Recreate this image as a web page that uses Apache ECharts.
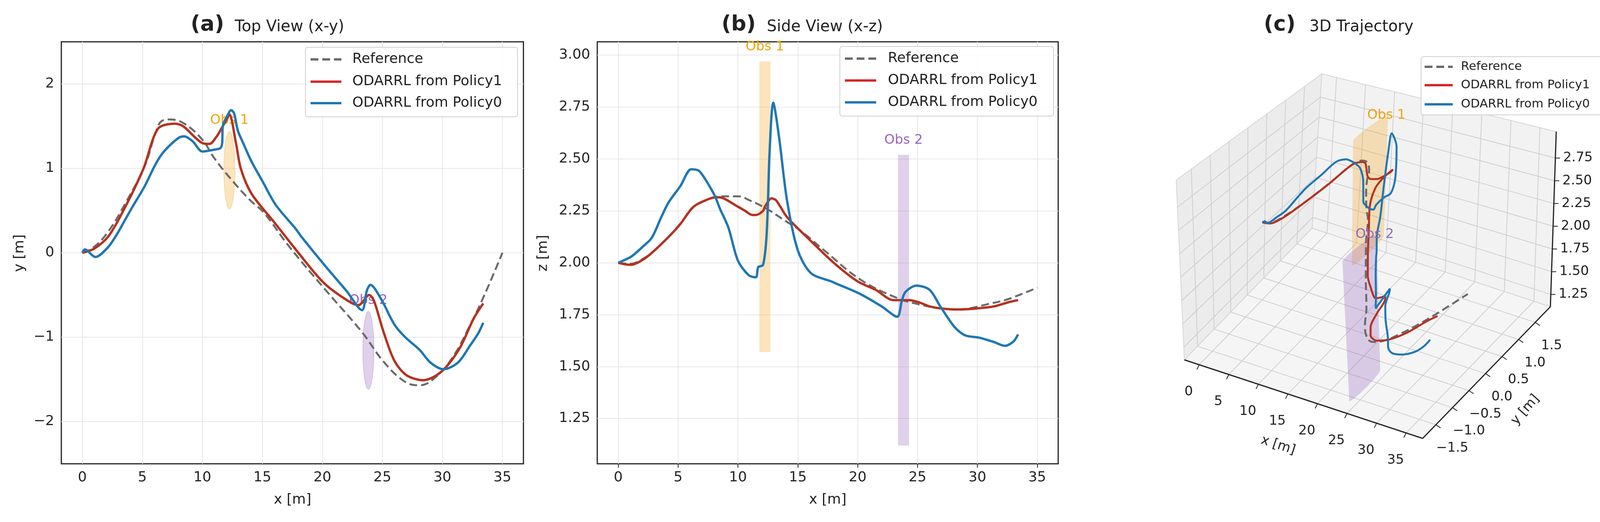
<!DOCTYPE html>
<html><head><meta charset="utf-8">
<script src="https://cdn.jsdelivr.net/npm/echarts@6/dist/echarts.min.js"></script>
<style>html,body{margin:0;padding:0;background:#fff}#c{width:4179px;height:1336px}</style>
</head><body><div id="c"></div>
<script>
// ---------------- data ----------------
const refX=[0,0.9,2.1,3.6,5.2,6.1,6.6,7.3,8.5,10,11,12.4,14,15.1,17.2,20.2,23.3,25.1,26.9,28.1,29.3,30.8,32.3,33.5,35];
const refY=[0,0.06,0.24,0.59,1.03,1.42,1.56,1.58,1.53,1.34,1.12,0.87,0.62,0.48,0.08,-0.43,-0.94,-1.29,-1.53,-1.57,-1.49,-1.25,-0.86,-0.5,0];
const refZ=[2.0,1.995,2.02,2.09,2.19,2.26,2.28,2.30,2.32,2.32,2.30,2.26,2.20,2.16,2.06,1.92,1.83,1.80,1.78,1.775,1.78,1.80,1.82,1.845,1.88];

const p1X=[0,1,2.2,3.6,5.1,6.3,7.7,8.4,10,10.6,11.2,11.5,12.1,12.25,12.8,13.2,14.1,16,18,20,21.5,23,23.9,24.3,25.1,26,27,28.4,29.9,31.4,32.6,33.4];
const p1Y=[0,0.05,0.2,0.55,1.0,1.47,1.53,1.5,1.3,1.29,1.38,1.45,1.6,1.64,1.3,1.0,0.7,0.36,0.0,-0.34,-0.51,-0.62,-0.5,-0.57,-0.94,-1.28,-1.45,-1.51,-1.41,-1.14,-0.78,-0.6];
const p1Z=[2.0,1.99,2.02,2.09,2.18,2.27,2.31,2.315,2.27,2.25,2.23,2.23,2.25,2.27,2.31,2.30,2.22,2.11,2.00,1.91,1.87,1.82,1.82,1.82,1.81,1.79,1.78,1.775,1.78,1.79,1.81,1.82];

const p0X=[0,0.2,1.1,2.1,2.8,3.6,4.2,5.2,6.1,6.8,8,8.5,9.2,10,10.9,11.5,11.65,11.7,12.1,12.4,12.65,12.95,13.4,14.1,15,16.1,17.8,18.2,20.2,22,23.3,23.7,24.0,24.9,26,26.9,28.1,29,30.1,31.3,32.3,33,33.4];
const p0Y=[0,0.04,-0.05,0.06,0.2,0.4,0.55,0.79,1.05,1.2,1.36,1.38,1.32,1.2,1.22,1.24,1.3,1.5,1.63,1.69,1.65,1.45,1.3,1.08,0.85,0.57,0.28,0.2,-0.15,-0.45,-0.68,-0.45,-0.38,-0.55,-0.85,-1.0,-1.15,-1.3,-1.38,-1.3,-1.1,-0.95,-0.83];
const p0Z=[2.0,2.005,2.03,2.08,2.12,2.22,2.29,2.37,2.45,2.44,2.33,2.26,2.17,2.01,1.94,1.93,1.97,1.98,1.99,2.14,2.54,2.77,2.62,2.30,2.06,1.95,1.91,1.90,1.85,1.79,1.74,1.82,1.86,1.89,1.87,1.79,1.69,1.65,1.64,1.62,1.60,1.62,1.655];

const obsNames=['Obs 1','Obs 2'];
const obsCX=[12.25,23.83], obsCY=[0.98,-1.155], obsR=[0.46,0.46];
const obsZmin=[1.57,1.12], obsZmax=[2.97,2.52];
const obsFill=['rgba(245,166,35,0.3)','rgba(148,103,189,0.3)'];
const obsText=['#f0a30a','#9467bd'];

const xTicks=[0,5,10,15,20,25,30,35];
const yTicksA=[-2,-1,0,1,2];
const zTicksB=[1.25,1.5,1.75,2.0,2.25,2.5,2.75,3.0];
const yTicks3=[-1.5,-1.0,-0.5,0.0,0.5,1.0,1.5];
const zTicks3=[1.25,1.5,1.75,2.0,2.25,2.5,2.75];
const legendNames=['Reference','ODARRL from Policy1','ODARRL from Policy0'];

// ---------------- styles ----------------
const F='DejaVu Sans';
const cRef='#6b6b6b', cP1='#b5321f', cP1L='#d62728', cP0='#1f77b4';
const minus=v=>String(v).replace('-','\u2212');
const zip=(a,b)=>a.map((v,i)=>[v,b[i]]);

// ---------------- 3D projection (approximating view elev=30, azim=-60) ----------------
const R3={x:[-2.52,37.8],y:[-1.9,1.96],z:[1.115,3.04]};
function projN(u,v,w){
  const h=460+53*u-65*v, hx=-21-10*u+46*v;
  return [3032+610*u+327*v+w*hx, 921+201*u-337*v-w*h];
}
const nx=x=>(x-R3.x[0])/(R3.x[1]-R3.x[0]);
const ny=y=>(y-R3.y[0])/(R3.y[1]-R3.y[0]);
const nz=z=>(z-R3.z[0])/(R3.z[1]-R3.z[0]);
const proj=(x,y,z)=>projN(nx(x),ny(y),nz(z));
const proj3=(X,Y,Z)=>X.map((x,i)=>proj(x,Y[i],Z[i]));

const graphics=[];
function poly(pts,fill,stroke,lw,z){graphics.push({type:'polygon',z:z||1,silent:true,shape:{points:pts},style:{fill:fill,stroke:stroke||null,lineWidth:lw||0}});}
function seg(a,b,col,lw,z){graphics.push({type:'line',z:z||2,silent:true,shape:{x1:a[0],y1:a[1],x2:b[0],y2:b[1]},style:{stroke:col,lineWidth:lw}});}
function txt(x,y,s,size,opt){graphics.push(Object.assign({type:'text',z:50,silent:true,x:x,y:y,style:{text:s,font:(opt&&opt.bold?'bold ':'')+size+'px "'+F+'"',fill:(opt&&opt.color)||'#222',align:(opt&&opt.align)||'center',verticalAlign:'middle'}},opt&&opt.rot!==undefined?{rotation:opt.rot}:{}));}

// panes
poly([projN(0,0,0),projN(0,1,0),projN(0,1,1),projN(0,0,1)],'#ececec','#d6d6d6',2,1);
poly([projN(0,1,0),projN(1,1,0),projN(1,1,1),projN(0,1,1)],'#f2f2f2','#d6d6d6',2,1);
poly([projN(0,0,0),projN(1,0,0),projN(1,1,0),projN(0,1,0)],'#f5f5f5','#d6d6d6',2,1);
const gc='#cfcfcf';
xTicks.forEach(x=>{const u=nx(x);seg(projN(u,0,0),projN(u,1,0),gc,2);seg(projN(u,1,0),projN(u,1,1),gc,2);});
yTicks3.forEach(y=>{const v=ny(y);seg(projN(0,v,0),projN(1,v,0),gc,2);seg(projN(0,v,0),projN(0,v,1),gc,2);});
zTicks3.forEach(z=>{const w=nz(z);seg(projN(0,0,w),projN(0,1,w),gc,2);seg(projN(0,1,w),projN(1,1,w),gc,2);});
// axis lines
seg(projN(0,0,0),projN(1,0,0),'#222',3,3);
seg(projN(1,0,0),projN(1,1,0),'#222',3,3);
seg(projN(1,1,0),projN(1,1,1),'#222',3,3);
xTicks.forEach(x=>{const p=proj(x,R3.y[0],R3.z[0]);seg(p,[p[0]-6,p[1]+12],'#222',2,3);txt(p[0]-27,p[1]+70,String(x),34);});
yTicks3.forEach(y=>{const p=proj(R3.x[1],y,R3.z[0]);seg(p,[p[0]+12,p[1]+8],'#222',2,3);txt(p[0]+42,p[1]+60,minus(y.toFixed(1)),34);});
zTicks3.forEach(z=>{const p=proj(R3.x[1],R3.y[1],z);seg(p,[p[0]+12,p[1]],'#222',2,3);txt(p[0]+20,p[1],z.toFixed(2),34,{align:'left'});});
txt(3272,1140,'x [m]',34,{rot:-0.32});
txt(3905,1049,'y [m]',34,{rot:0.85});
txt(4128,546,'z [m]',34,{rot:Math.PI/2});
// obstacles (cylinder silhouettes)
function hull(p){p=p.slice().sort((a,b)=>a[0]-b[0]||a[1]-b[1]);const cr=(o,a,b)=>(a[0]-o[0])*(b[1]-o[1])-(a[1]-o[1])*(b[0]-o[0]);
 const lo=[],up=[];for(const q of p){while(lo.length>=2&&cr(lo[lo.length-2],lo[lo.length-1],q)<=0)lo.pop();lo.push(q);}
 for(let i=p.length-1;i>=0;i--){const q=p[i];while(up.length>=2&&cr(up[up.length-2],up[up.length-1],q)<=0)up.pop();up.push(q);}
 lo.pop();up.pop();return lo.concat(up);}
obsNames.forEach((n,k)=>{const pts=[];for(let i=0;i<36;i++){const a=i/36*2*Math.PI;const x=obsCX[k]+obsR[k]*Math.cos(a),y=obsCY[k]+obsR[k]*Math.sin(a);pts.push(proj(x,y,obsZmin[k]));pts.push(proj(x,y,obsZmax[k]));}
 poly(hull(pts),obsFill[k],null,0,4);
 const lp=proj(obsCX[k],obsCY[k],obsZmax[k]+0.1);txt(lp[0]+40,lp[1]-10,n,34,{color:obsText[k]});});

// titles & axis names
txt(531,64,'(a)',54,{bold:true});txt(601,70,'Top View (x-y)',40,{align:'left'});
txt(1891,64,'(b)',54,{bold:true});txt(1963,70,'Side View (x-z)',40,{align:'left'});
txt(3276,64,'(c)',54,{bold:true});txt(3352,70,'3D Trajectory',40,{align:'left'});
txt(749,1280,'x [m]',36);txt(51,648,'y [m]',36,{rot:Math.PI/2});
txt(2119,1280,'x [m]',36);txt(1391,648,'z [m]',36,{rot:Math.PI/2});

// legends
function legend(x0,y0,x1,y1,rows,lx0,lx1,tx,fs){
  graphics.push({type:'rect',z:60,silent:true,shape:{x:x0,y:y0,width:x1-x0,height:y1-y0,r:6},style:{fill:'rgba(255,255,255,0.85)',stroke:'#d0d0d0',lineWidth:2}});
  const cols=[cRef,cP1L,cP0];
  legendNames.forEach((n,i)=>{graphics.push({type:'line',z:61,silent:true,shape:{x1:lx0,y1:rows[i],x2:lx1,y2:rows[i]},style:{stroke:cols[i],lineWidth:6,lineDash:i===0?[20,10]:null}});
    graphics.push({type:'text',z:61,silent:true,x:tx,y:rows[i],style:{text:n,font:fs+'px "'+F+'"',fill:'#222',verticalAlign:'middle'}});});
}
legend(782,121,1325,299,[152,209,264],795,874,902,36);
legend(2150,119,2697,297,[150,206,262],2163,2243,2273,36);
legend(3638,145,4104,294,[171,218,267],3647,3719,3740,31);

// ---------------- chart ----------------
const grid2d=(l,w)=>({left:l,top:107,width:w,height:1080,show:true,borderColor:'#222',borderWidth:3,backgroundColor:'transparent'});
const labelStyle={fontFamily:F,fontSize:36,color:'#262626',margin:18};
const tick={show:true,inside:false,length:10,lineStyle:{color:'#222',width:2}};
function xAx(gi,min,max){return {type:'value',gridIndex:gi,min:min,max:max,axisLine:{show:false},splitLine:{show:false},
  axisTick:Object.assign({customValues:xTicks},tick),axisLabel:Object.assign({customValues:xTicks,formatter:v=>minus(v)},labelStyle)};}
function yAx(gi,min,max,ticks,fmt){return {type:'value',gridIndex:gi,min:min,max:max,axisLine:{show:false},splitLine:{show:false},
  axisTick:Object.assign({customValues:ticks},tick),axisLabel:Object.assign({customValues:ticks,formatter:fmt},labelStyle)};}
function gridLines(gi,yt){return {type:'line',xAxisIndex:gi,yAxisIndex:gi,data:[],z:0,silent:true,
  markLine:{silent:true,symbol:'none',label:{show:false},lineStyle:{color:'#e8e8e8',width:2,type:'solid'},
   data:xTicks.map(v=>({xAxis:v})).concat(yt.map(v=>({yAxis:v})))}};}
function ln(gi,X,Y,col,dash,sm,z){return {type:'line',xAxisIndex:gi,yAxisIndex:gi,data:zip(X,Y),showSymbol:false,symbol:'none',smooth:sm,silent:true,z:z,
  lineStyle:{color:col,width:dash?5:6,type:dash?[20,10]:'solid'}};}
function ellipses(){return {type:'custom',xAxisIndex:0,yAxisIndex:0,z:5,silent:true,data:obsNames.map((n,k)=>[obsCX[k],obsCY[k],obsR[k],k]),
  renderItem:(p,api)=>{const cx=api.value(0),cy=api.value(1),r=api.value(2),k=api.value(3);const pts=[];
   for(let i=0;i<60;i++){const a=i/60*2*Math.PI;pts.push(api.coord([cx+r*Math.cos(a),cy+r*Math.sin(a)]));}
   const lp=api.coord([cx,cy+r+0.13]);
   return {type:'group',children:[{type:'polygon',shape:{points:pts},style:{fill:obsFill[k],stroke:obsFill[k],lineWidth:2}},
     {type:'text',x:lp[0],y:lp[1],style:{text:obsNames[k],font:'34px "'+F+'"',fill:obsText[k],align:'center',verticalAlign:'middle'}}]};}};}
function rects(){return {type:'custom',xAxisIndex:1,yAxisIndex:1,z:5,silent:true,data:obsNames.map((n,k)=>[obsCX[k]-obsR[k],obsCX[k]+obsR[k],obsZmin[k],obsZmax[k],k]),
  renderItem:(p,api)=>{const a=api.coord([api.value(0),api.value(3)]),b=api.coord([api.value(1),api.value(2)]);const k=api.value(4);
   const lp=api.coord([(api.value(0)+api.value(1))/2,api.value(3)+0.07]);
   return {type:'group',children:[{type:'rect',shape:{x:a[0],y:a[1],width:b[0]-a[0],height:b[1]-a[1]},style:{fill:obsFill[k]}},
     {type:'text',x:lp[0],y:lp[1],style:{text:obsNames[k],font:'34px "'+F+'"',fill:obsText[k],align:'center',verticalAlign:'middle'}}]};}};}

const chart=echarts.init(document.getElementById('c'),null,{renderer:'canvas',width:4179,height:1336});
chart.setOption({
  backgroundColor:'#fff',animation:false,
  grid:[grid2d(157,1183),grid2d(1529,1180),{left:0,top:0,width:4179,height:1336,show:false}],
  xAxis:[xAx(0,-1.75,36.75),xAx(1,-1.75,36.75),{type:'value',gridIndex:2,min:0,max:4179,show:false}],
  yAxis:[yAx(0,-2.5,2.5,yTicksA,v=>minus(v)),yAx(1,1.032,3.064,zTicksB,v=>v.toFixed(2)),{type:'value',gridIndex:2,min:0,max:1336,inverse:true,show:false}],
  series:[
    gridLines(0,yTicksA),gridLines(1,zTicksB),
    ellipses(),rects(),
    ln(0,refX,refY,cRef,true,0.4,10),ln(0,p1X,p1Y,cP1,false,0.3,11),ln(0,p0X,p0Y,cP0,false,0.3,12),
    ln(1,refX,refZ,cRef,true,0.4,10),ln(1,p1X,p1Z,cP1,false,0.3,11),ln(1,p0X,p0Z,cP0,false,0.3,12),
    {type:'line',xAxisIndex:2,yAxisIndex:2,data:proj3(refX,refY,refZ),showSymbol:false,smooth:0.4,silent:true,z:10,lineStyle:{color:cRef,width:5,type:[20,10]}},
    {type:'line',xAxisIndex:2,yAxisIndex:2,data:proj3(p1X,p1Y,p1Z),showSymbol:false,smooth:0.3,silent:true,z:11,lineStyle:{color:cP1,width:5}},
    {type:'line',xAxisIndex:2,yAxisIndex:2,data:proj3(p0X,p0Y,p0Z),showSymbol:false,smooth:0.3,silent:true,z:12,lineStyle:{color:cP0,width:5}}
  ],
  graphic:{elements:graphics}
});
</script></body></html>
